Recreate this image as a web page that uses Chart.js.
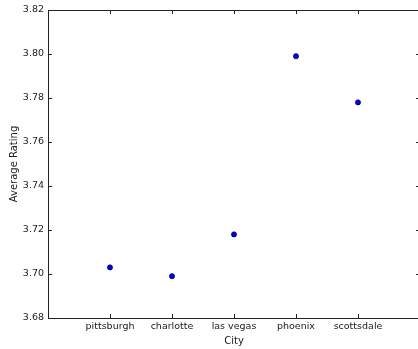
<!DOCTYPE html>
<html>
<head>
<meta charset="utf-8">
<script src="https://cdn.jsdelivr.net/npm/chart.js@4"></script>
<style>
html,body{margin:0;padding:0;background:#fff;overflow:hidden;width:418px;height:349px;}
canvas{display:block;}
</style>
</head>
<body>
<canvas id="c" width="430" height="349"></canvas>
<script>
const categories = ["pittsburgh", "charlotte", "las vegas", "phoenix", "scottsdale"];
const ratings = [3.703, 3.699, 3.718, 3.799, 3.778];
const yTicks = [3.68, 3.70, 3.72, 3.74, 3.76, 3.78, 3.80, 3.82];
const xTitle = "City";
const yTitle = "Average Rating";

const FONT = "'DejaVu Sans', sans-serif";
const TXT = '#1a1a1a';

const frame = {
  id: 'frame',
  afterDraw(chart) {
    const {ctx, chartArea: a, scales} = chart;
    ctx.save();
    ctx.strokeStyle = '#222';
    ctx.lineWidth = 1;
    const L = 4;
    ctx.beginPath();
    scales.x.ticks.forEach(t => {
      const x = Math.round(scales.x.getPixelForValue(t.value)) + 0.5;
      ctx.moveTo(x, a.bottom); ctx.lineTo(x, a.bottom - L);
      ctx.moveTo(x, a.top); ctx.lineTo(x, a.top + L);
    });
    scales.y.ticks.forEach(t => {
      const y = Math.round(scales.y.getPixelForValue(t.value)) + 0.5;
      ctx.moveTo(a.left, y); ctx.lineTo(a.left + L, y);
      ctx.moveTo(a.right, y); ctx.lineTo(a.right - L, y);
    });
    ctx.stroke();
    ctx.strokeRect(Math.round(a.left) + 0.5, Math.round(a.top) + 0.5,
                   Math.round(a.right - a.left), Math.round(a.bottom - a.top));
    ctx.restore();
  }
};

new Chart(document.getElementById('c'), {
  type: 'scatter',
  data: {
    datasets: [{
      data: categories.map((c, i) => ({x: i, y: ratings[i]})),
      backgroundColor: '#0000ee',
      borderColor: '#000',
      borderWidth: 0.6,
      pointRadius: 2.6,
      pointHoverRadius: 2.6
    }]
  },
  options: {
    responsive: false,
    animation: false,
    events: [],
    layout: {padding: {top: 10, right: 10, left: 0, bottom: 0}},
    plugins: {legend: {display: false}, tooltip: {enabled: false}},
    scales: {
      x: {
        type: 'linear',
        min: -1, max: 5,
        afterBuildTicks(s) { s.ticks = categories.map((c, i) => ({value: i})); },
        afterFit(s) { s.height = 31; },
        grid: {display: false, drawTicks: false},
        border: {display: false},
        ticks: {
          callback: v => categories[v],
          color: TXT, padding: 3, maxRotation: 0, autoSkip: false,
          font: {family: FONT, size: 9.5}
        },
        title: {display: true, text: xTitle, color: TXT,
                font: {family: FONT, size: 10}, padding: {top: 0, bottom: 1.5}}
      },
      y: {
        min: 3.68, max: 3.82,
        afterBuildTicks(s) { s.ticks = yTicks.map(v => ({value: v})); },
        afterFit(s) { s.width = 48; },
        grid: {display: false, drawTicks: false},
        border: {display: false},
        ticks: {
          callback: v => v.toFixed(2),
          color: TXT, padding: 4, autoSkip: false,
          font: {family: FONT, size: 9.5}
        },
        title: {display: true, text: yTitle, color: TXT,
                font: {family: FONT, size: 10}, padding: {top: 8, bottom: 0}}
      }
    }
  },
  plugins: [frame]
});
</script>
</body>
</html>
